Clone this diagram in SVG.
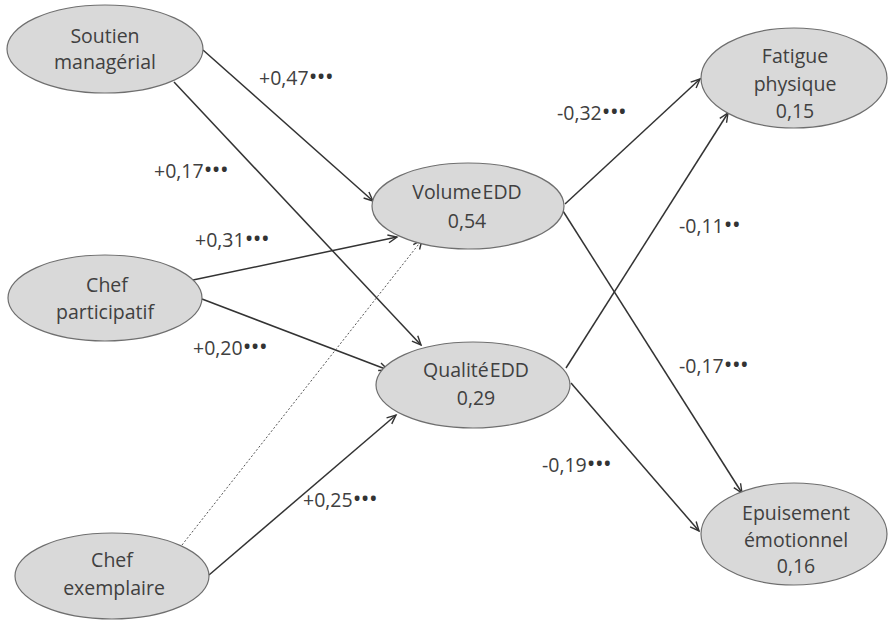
<svg xmlns="http://www.w3.org/2000/svg" width="889" height="620" viewBox="0 0 889 620">
<defs>
<marker id="arr" markerWidth="12" markerHeight="10" refX="10" refY="5" orient="auto" markerUnits="userSpaceOnUse">
<path d="M1,1 L10,5 L1,9" fill="none" stroke="#333" stroke-width="1.4"/>
</marker>
<style>
.node ellipse{fill:#d9d9d9;stroke:#6f6f6f;stroke-width:1.2}
text{font-family:"Open Sans","Liberation Sans",sans-serif;font-size:19.5px;fill:#404040}
.node text{text-anchor:middle}
.c line{stroke:#333;stroke-width:1.5;marker-end:url(#arr)}
.c line.dot{stroke:#555;stroke-width:1;stroke-dasharray:2 2}
.d{font-size:23px;letter-spacing:-0.5px;fill:#333}
</style>
</defs>
<rect width="889" height="620" fill="#fff"/>
<g class="c" id="connectors">
<line x1="203" y1="50" x2="373" y2="201"/>
<line x1="174" y1="82" x2="421" y2="345"/>
<line x1="193" y1="280" x2="397" y2="237"/>
<line x1="202" y1="299" x2="388" y2="370"/>
<line class="dot" x1="182" y1="545" x2="422" y2="240"/>
<line x1="209" y1="575" x2="396" y2="415"/>
<line x1="565" y1="204" x2="700" y2="79"/>
<line x1="566" y1="368" x2="728" y2="113"/>
<line x1="563" y1="211" x2="742" y2="493"/>
<line x1="571" y1="383" x2="699" y2="531"/>
</g>
<g id="labels">
<text x="259" y="85">+0,47<tspan class="d">•••</tspan></text>
<text x="154" y="178">+0,17<tspan class="d">•••</tspan></text>
<text x="195" y="247">+0,31<tspan class="d">•••</tspan></text>
<text x="193" y="355">+0,20<tspan class="d">•••</tspan></text>
<text x="303" y="507">+0,25<tspan class="d">•••</tspan></text>
<text x="557" y="120">-0,32<tspan class="d">•••</tspan></text>
<text x="679" y="233">-0,11<tspan class="d">••</tspan></text>
<text x="679" y="373">-0,17<tspan class="d">•••</tspan></text>
<text x="542" y="472">-0,19<tspan class="d">•••</tspan></text>
</g>
<g class="node" id="soutien">
<ellipse cx="105" cy="49" rx="98" ry="44"/>
<text x="105" y="43">Soutien</text>
<text x="105" y="69">managérial</text>
</g>
<g class="node" id="participatif">
<ellipse cx="105" cy="298" rx="97" ry="43"/>
<text x="107" y="292">Chef</text>
<text x="105" y="319">participatif</text>
</g>
<g class="node" id="exemplaire">
<ellipse cx="112" cy="576" rx="97" ry="43"/>
<text x="112" y="567">Chef</text>
<text x="114" y="595">exemplaire</text>
</g>
<g class="node" id="volume">
<ellipse cx="468" cy="206" rx="96" ry="43"/>
<text x="467" y="199" word-spacing="-4">Volume EDD</text>
<text x="467" y="228">0,54</text>
</g>
<g class="node" id="qualite">
<ellipse cx="473" cy="385" rx="97" ry="43"/>
<text x="476" y="377" word-spacing="-4">Qualité EDD</text>
<text x="476" y="405">0,29</text>
</g>
<g class="node" id="fatigue">
<ellipse cx="794" cy="78" rx="93" ry="50"/>
<text x="795" y="63">Fatigue</text>
<text x="795" y="91">physique</text>
<text x="795" y="118">0,15</text>
</g>
<g class="node" id="epuisement">
<ellipse cx="794" cy="534" rx="93" ry="51"/>
<text x="796" y="520">Epuisement</text>
<text x="796" y="547">émotionnel</text>
<text x="796" y="573">0,16</text>
</g>
</svg>
